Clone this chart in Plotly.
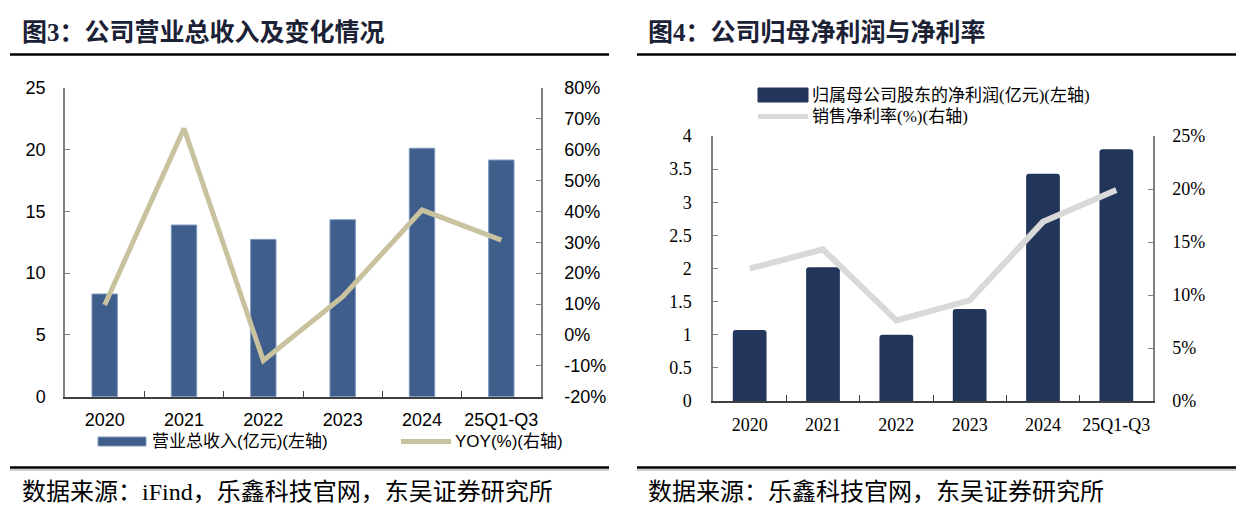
import plotly.graph_objects as go

categories = ["2020", "2021", "2022", "2023", "2024", "25Q1-Q3"]
revenue = [8.31, 13.89, 12.73, 14.32, 20.1, 19.15]          # 亿元
revenue_yoy = [0.097, 0.668, -0.083, 0.124, 0.404, 0.307]    # YOY
net_profit = [1.07, 2.02, 1.0, 1.39, 3.43, 3.80]             # 亿元
net_margin = [0.125, 0.143, 0.076, 0.095, 0.169, 0.199]      # 销售净利率

left_ticks = [0, 5, 10, 15, 20, 25]
yoy_ticks = [-0.2, -0.1, 0, 0.1, 0.2, 0.3, 0.4, 0.5, 0.6, 0.7, 0.8]
yoy_labels = ["-20%", "-10%", "0%", "10%", "20%", "30%", "40%", "50%", "60%", "70%", "80%"]
profit_ticks = [0, 0.5, 1, 1.5, 2, 2.5, 3, 3.5, 4]
margin_ticks = [0, 0.05, 0.1, 0.15, 0.2, 0.25]
margin_labels = ["0%", "5%", "10%", "15%", "20%", "25%"]

W, H = 1250, 520
BAR1 = "#3F5E8C"
LINE1 = "#C8C29E"
BAR2 = "#22355A"
LINE2 = "#D9D9D9"
SANS = "Liberation Sans, Arial, Noto Sans CJK SC, sans-serif"
SERIF = "Liberation Serif, Times New Roman, Noto Sans CJK SC, serif"
CJK = "Liberation Serif, Noto Sans CJK SC, serif"


def px(x):
    return x / W


def py(y):
    return 1 - y / H


fig = go.Figure()

fig.add_trace(go.Bar(x=categories, y=revenue, width=0.32,
                     marker=dict(color=BAR1, line=dict(color="#7F9AC0", width=1)),
                     xaxis="x", yaxis="y", showlegend=False))
fig.add_trace(go.Scatter(x=categories, y=revenue_yoy, mode="lines",
                         line=dict(color=LINE1, width=5),
                         xaxis="x", yaxis="y2", showlegend=False))
fig.add_trace(go.Bar(x=categories, y=net_profit, width=0.46,
                     marker=dict(color=BAR2, cornerradius=3, line=dict(width=0)),
                     xaxis="x2", yaxis="y3", showlegend=False))
fig.add_trace(go.Scatter(x=categories, y=net_margin, mode="lines",
                         line=dict(color=LINE2, width=6),
                         xaxis="x2", yaxis="y4", showlegend=False))

d1x = [px(65), px(541)]
d1y = [py(396.7), py(87.7)]
d2x = [px(713), px(1153)]
d2y = [py(401), py(136)]

common_x = dict(type="category", range=[-0.5, 5.5], showline=True, linewidth=1.5,
                linecolor="#404040", ticks="inside", tickson="boundaries",
                ticklen=6, tickcolor="#404040", showgrid=False, zeroline=False,
                tickangle=0, automargin=False)
common_y = dict(showline=True, linewidth=1.5, linecolor="#808080",
                ticks="inside", ticklen=5, tickcolor="#808080",
                showgrid=False, zeroline=False, automargin=False)

fig.update_layout(
    width=W, height=H, margin=dict(l=0, r=0, t=0, b=0, autoexpand=False),
    paper_bgcolor="white", plot_bgcolor="rgba(0,0,0,0)",
    showlegend=False,
    xaxis=dict(domain=d1x, anchor="y",
               tickfont=dict(family=SANS, size=18, color="black"),
               ticklabelstandoff=6, **common_x),
    yaxis=dict(domain=d1y, anchor="x", range=[0, 25], tickvals=left_ticks,
               ticklabelstandoff=14,
               tickfont=dict(family=SANS, size=18, color="black"), **common_y),
    yaxis2=dict(domain=d1y, anchor="x", overlaying="y", side="right",
                range=[-0.2, 0.8], tickvals=yoy_ticks, ticktext=yoy_labels,
                ticklabelstandoff=18,
                tickfont=dict(family=SANS, size=18, color="black"), **common_y),
    xaxis2=dict(domain=d2x, anchor="y3",
                tickfont=dict(family=SERIF, size=18, color="black"),
                ticklabelstandoff=7, **common_x),
    yaxis3=dict(domain=d2y, anchor="x2", range=[0, 4], tickvals=profit_ticks,
                ticklabelstandoff=16,
                tickfont=dict(family=SERIF, size=18, color="black"), **common_y),
    yaxis4=dict(domain=d2y, anchor="x2", overlaying="y3", side="right",
                range=[0, 0.25], tickvals=margin_ticks, ticktext=margin_labels,
                ticklabelstandoff=14,
                tickfont=dict(family=SERIF, size=18, color="black"), **common_y),
)

shapes = []
# horizontal rules
for x0, x1 in [(10, 609), (637, 1236)]:
    shapes.append(dict(type="line", xref="paper", yref="paper", x0=px(x0), x1=px(x1),
                       y0=py(54.5), y1=py(54.5), line=dict(color="black", width=2.5)))
    shapes.append(dict(type="line", xref="paper", yref="paper", x0=px(x0), x1=px(x1),
                       y0=py(467.5), y1=py(467.5), line=dict(color="black", width=2.5)))
    shapes.append(dict(type="line", xref="paper", yref="paper", x0=px(x0), x1=px(x1),
                       y0=py(470), y1=py(470), line=dict(color="#A0A0A0", width=1)))
# legend keys, left chart
shapes.append(dict(type="rect", xref="paper", yref="paper", x0=px(98), x1=px(146),
                   y0=py(446), y1=py(437), fillcolor=BAR1, line=dict(color="#7F9AC0", width=1)))
shapes.append(dict(type="line", xref="paper", yref="paper", x0=px(401), x1=px(451),
                   y0=py(441.5), y1=py(441.5), line=dict(color=LINE1, width=5)))
# legend keys, right chart
shapes.append(dict(type="rect", xref="paper", yref="paper", x0=px(758), x1=px(808),
                   y0=py(102), y1=py(88), fillcolor=BAR2, line=dict(color=BAR2, width=1)))
shapes.append(dict(type="line", xref="paper", yref="paper", x0=px(758), x1=px(808),
                   y0=py(116.5), y1=py(116.5), line=dict(color=LINE2, width=5)))
fig.update_layout(shapes=shapes)


def text(x, y, s, size, family=CJK, color="black", bold=False):
    if bold:
        s = "<b>" + s + "</b>"
    fig.add_annotation(x=px(x), y=py(y), xref="paper", yref="paper", text=s,
                       showarrow=False, xanchor="left", yanchor="middle",
                       font=dict(family=family, size=size, color=color))


text(20, 32, "图3：公司营业总收入及变化情况", 25, color="#1B2236", bold=True)
text(646, 32, "图4：公司归母净利润与净利率", 25, color="#1B2236", bold=True)
text(20, 492, "数据来源：iFind，乐鑫科技官网，东吴证券研究所", 24)
text(646, 492, "数据来源：乐鑫科技官网，东吴证券研究所", 24)
text(150, 441.5, "营业总收入(亿元)(左轴)", 17, family=SANS)
text(453, 441.5, "YOY(%)(右轴)", 17, family=SANS)
text(810, 95, "归属母公司股东的净利润(亿元)(左轴)", 17)
text(810, 117, "销售净利率(%)(右轴)", 17)

fig.write_html("out.html", config={"displayModeBar": False},
               post_script="document.body.style.margin='0';")
